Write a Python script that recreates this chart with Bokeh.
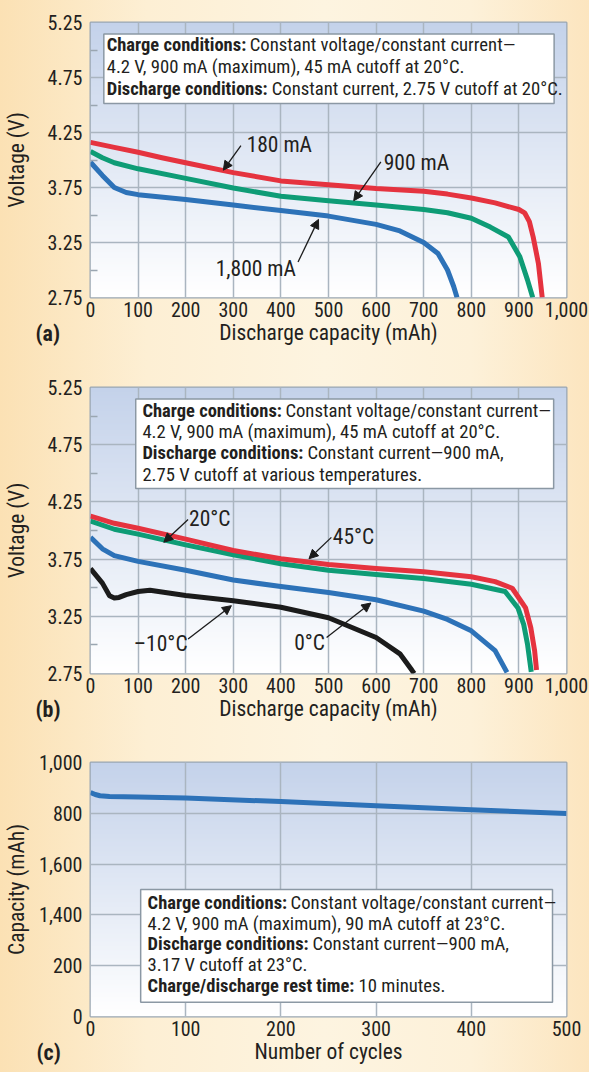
import numpy as np
from bokeh.plotting import figure
from bokeh.models import (Range1d, FixedTicker, NumeralTickFormatter, PrintfTickFormatter,
                          Arrow, NormalHead, Label, Title)
from bokeh.layouts import column
from bokeh.embed import file_html
from bokeh.resources import INLINE

# ---------------- data ----------------
# Panel (a): discharge at different currents, 20 C
a_180_x = [0, 50, 100, 150, 200, 300, 400, 500, 600, 700, 750, 800, 850, 900, 912, 922, 930, 941, 949]
a_180_y = [4.16, 4.115, 4.07, 4.02, 3.975, 3.885, 3.81, 3.775, 3.74, 3.715, 3.69, 3.655, 3.61, 3.55, 3.52, 3.44, 3.30, 3.06, 2.75]
a_900_x = [0, 25, 50, 100, 200, 300, 400, 500, 600, 700, 750, 800, 840, 878, 902, 918, 929]
a_900_y = [4.077, 4.02, 3.975, 3.92, 3.833, 3.745, 3.67, 3.63, 3.59, 3.55, 3.52, 3.47, 3.39, 3.30, 3.12, 2.91, 2.75]
a_1800_x = [0, 25, 50, 75, 100, 200, 300, 400, 500, 600, 650, 700, 730, 750, 763, 770]
a_1800_y = [3.98, 3.86, 3.75, 3.705, 3.685, 3.64, 3.59, 3.54, 3.49, 3.415, 3.355, 3.25, 3.15, 3.0, 2.85, 2.75]

# Panel (b): discharge at 900 mA, various temperatures
b_20_x = [0, 50, 100, 200, 300, 400, 500, 600, 700, 800, 850, 886, 914, 925, 933, 937]
b_20_y = [4.126, 4.063, 4.02, 3.925, 3.825, 3.753, 3.702, 3.667, 3.639, 3.596, 3.553, 3.495, 3.323, 3.15, 2.95, 2.78]
b_45_x = [0, 50, 100, 200, 300, 400, 500, 600, 700, 800, 871, 898, 910, 918, 926]
b_45_y = [4.083, 4.011, 3.968, 3.874, 3.788, 3.71, 3.653, 3.616, 3.581, 3.53, 3.467, 3.323, 3.18, 3.008, 2.764]
b_0_x = [0, 25, 50, 100, 200, 300, 400, 500, 600, 700, 750, 800, 850, 875]
b_0_y = [3.94, 3.84, 3.78, 3.73, 3.653, 3.567, 3.51, 3.458, 3.395, 3.295, 3.223, 3.123, 2.95, 2.76]
b_m10_x = [0, 25, 40, 50, 60, 75, 100, 125, 200, 300, 400, 500, 600, 650, 675, 680]
b_m10_y = [3.667, 3.54, 3.43, 3.41, 3.415, 3.44, 3.467, 3.478, 3.432, 3.386, 3.329, 3.237, 3.065, 2.922, 2.78, 2.75]

# Panel (c): capacity vs cycles
c_cycles = [0, 5, 10, 20, 50, 100, 200, 300, 400, 500]
c_capacity = [882, 874, 869, 866, 864, 860, 846, 830, 814, 799]

# ticks
v_ticks = [2.75, 3.25, 3.75, 4.25, 4.75, 5.25]
v_minor = [3.0, 3.5, 4.0, 4.5, 5.0]
mah_ticks = [0, 100, 200, 300, 400, 500, 600, 700, 800, 900, 1000]
cyc_ticks = [0, 100, 200, 300, 400, 500]
cap_ticks = [0, 200, 400, 600, 800, 1000]
cap_labels = ["0", "200", "1,400", "1,600", "800", "1,000"]

# texts
box_a = [("Charge conditions:", "Constant voltage/constant current\u2014"),
         ("", "4.2 V, 900 mA (maximum), 45 mA cutoff at 20\u00b0C."),
         ("Discharge conditions:", "Constant current, 2.75 V cutoff at 20\u00b0C.")]
box_b = [("Charge conditions:", "Constant voltage/constant current\u2014"),
         ("", "4.2 V, 900 mA (maximum), 45 mA cutoff at 20\u00b0C."),
         ("Discharge conditions:", "Constant current\u2014900 mA,"),
         ("", "2.75 V cutoff at various temperatures.")]
box_c = [("Charge conditions:", "Constant voltage/constant current\u2014"),
         ("", "4.2 V, 900 mA (maximum), 90 mA cutoff at 23\u00b0C."),
         ("Discharge conditions:", "Constant current\u2014900 mA,"),
         ("", "3.17 V cutoff at 23\u00b0C."),
         ("Charge/discharge rest time:", "10 minutes.")]

# annotation (label text, label x, label y, arrow from x, y, arrow to x, y)
ann_a = [("180 mA", 328, 4.137, 316, 4.131, 279, 3.907),
         ("900 mA", 616, 3.976, 610, 3.982, 553, 3.63),
         ("1,800 mA", 263, 3.012, 436, 3.072, 479, 3.46)]
ann_b = [("20\u00b0C", 207, 4.103, 205, 4.097, 154, 3.897),
         ("45\u00b0C", 509, 3.948, 506, 3.94, 459, 3.753),
         ("\u201310\u00b0C", 91, 3.008, 205, 3.051, 296, 3.343),
         ("0\u00b0C", 428, 3.02, 496, 3.065, 589, 3.366)]

# ---------------- style ----------------
FONT = "Roboto Condensed"
INK = "#231f20"
RED = "#e5333f"
GREEN = "#0e9c76"
BLUE = "#2d72b8"
BLACK = "#1b1b1b"
GRID = "#aab5c0"
FRAME = "#9aa6b1"
BOXLINE = "#8b98a4"
BOLD_OFF = {"Charge conditions:": 143, "Discharge conditions:": 165, "Charge/discharge rest time:": 211}
W = 589


def gradient(p, x0, x1, y0, y1):
    n = 240
    top = np.array([0xc4, 0xd2, 0xea], dtype=float)
    bot = np.array([255, 255, 255], dtype=float)
    t = np.linspace(0, 1, n)[:, None]
    rgb = bot + (top - bot) * t
    img = np.zeros((n, 1), dtype=np.uint32)
    view = img.view(dtype=np.uint8).reshape((n, 1, 4))
    view[:, 0, 0:3] = rgb.round().astype(np.uint8)
    view[:, 0, 3] = 255
    p.image_rgba(image=[img], x=x0, y=y0, dw=x1 - x0, dh=y1 - y0, level="image")


def make_fig(h, xr, yr, top, bottom, right, xlabel, ylabel, ylab_standoff, tag, tag_offset):
    p = figure(width=W, height=h, x_range=Range1d(*xr), y_range=Range1d(*yr),
               output_backend="svg", toolbar_location=None,
               min_border_left=86, min_border_right=right,
               min_border_top=top, min_border_bottom=bottom)
    p.border_fill_color = None
    p.background_fill_color = "white"
    p.outline_line_color = FRAME
    p.outline_line_width = 2
    p.grid.grid_line_color = GRID
    p.grid.grid_line_width = 1.5
    for ax in (p.xaxis[0], p.yaxis[0]):
        ax.axis_line_color = None
        ax.major_tick_in = 0
        ax.major_tick_out = 0
        ax.minor_tick_out = 0
        ax.major_label_text_font = FONT
        ax.major_label_text_font_size = "20px"
        ax.major_label_text_color = INK
        ax.axis_label_text_font = FONT
        ax.axis_label_text_font_size = "21.5px"
        ax.axis_label_text_font_style = "normal"
        ax.axis_label_text_color = INK
    p.xaxis.major_label_standoff = 4
    p.yaxis.major_label_standoff = 8
    p.xaxis.axis_label = xlabel
    p.yaxis.axis_label = ylabel
    p.xaxis.axis_label_standoff = 0
    p.yaxis.axis_label_standoff = ylab_standoff
    gradient(p, xr[0], xr[1], yr[0], yr[1])
    p.add_layout(Title(text=tag, align="left", offset=tag_offset, standoff=-54,
                       vertical_align="top", text_font=FONT, text_font_size="22px",
                       text_font_style="bold", text_color=INK), "below")
    return p


def add_label(p, x, y, text, size="21.5px", align="left"):
    p.add_layout(Label(x=x, y=y, text=text, text_font=FONT, text_font_size=size,
                       text_color=INK, text_align=align, text_baseline="middle"))


def add_box(p, l, r, b, t, x, ys, lines):
    p.quad(left=l, right=r, bottom=b, top=t, fill_color="white",
           line_color=BOXLINE, line_width=1.5)
    for (bold, normal), y in zip(lines, ys):
        off = 0
        if bold:
            p.add_layout(Label(x=x, y=y, text=bold, text_font=FONT, text_font_size="18.5px",
                               text_font_style="bold", text_color=INK,
                               text_align="left", text_baseline="middle"))
            off = BOLD_OFF[bold]
        p.add_layout(Label(x=x, y=y, x_offset=off, text=normal, text_font=FONT,
                           text_font_size="18.7px", text_color=INK,
                           text_align="left", text_baseline="middle"))


def add_ann(p, anns):
    for text, lx, ly, x0, y0, x1, y1 in anns:
        p.add_layout(Arrow(end=NormalHead(size=9, fill_color=BLACK, line_color=BLACK, line_width=1),
                           x_start=x0, y_start=y0, x_end=x1, y_end=y1,
                           line_color=BLACK, line_width=1.3))
        add_label(p, lx, ly, text)


def voltage_axes(p):
    p.xaxis.ticker = FixedTicker(ticks=mah_ticks)
    p.xaxis.formatter = NumeralTickFormatter(format="0,0")
    p.yaxis.ticker = FixedTicker(ticks=v_ticks, minor_ticks=v_minor)
    p.yaxis.formatter = PrintfTickFormatter(format="%.2f")
    p.yaxis.minor_tick_in = 7
    p.yaxis.minor_tick_line_color = FRAME
    p.yaxis.minor_tick_line_width = 1.5


LW = 5

# ---------------- panel (a) ----------------
pa = make_fig(363, (0, 1000), (2.75, 5.25), 22, 66, 23,
              "Discharge capacity (mAh)", "Voltage (V)", 16, "(a)", -55)
voltage_axes(pa)
for xs, ys, c in ((a_1800_x, a_1800_y, BLUE), (a_900_x, a_900_y, GREEN), (a_180_x, a_180_y, RED)):
    pa.line(xs, ys, line_color=c, line_width=LW, line_join="round")
add_box(pa, 28, 974, 4.513, 5.146, 34, [5.044, 4.847, 4.650], box_a)
add_ann(pa, ann_a)

# ---------------- panel (b) ----------------
pb = make_fig(366, (0, 1000), (2.75, 5.25), 24, 56, 23,
              "Discharge capacity (mAh)", "Voltage (V)", 16, "(b)", -55)
voltage_axes(pb)
for xs, ys, c in ((b_m10_x, b_m10_y, BLACK), (b_0_x, b_0_y, BLUE), (b_45_x, b_45_y, GREEN), (b_20_x, b_20_y, RED)):
    pb.line(xs, ys, line_color=c, line_width=LW, line_join="round")
add_box(pb, 95, 973, 4.367, 5.15, 109, [5.046, 4.862, 4.681, 4.485], box_b)
add_ann(pb, ann_b)

# ---------------- panel (c) ----------------
pc = make_fig(343, (0, 500), (0, 1000), 33, 56, 17,
              "Number of cycles", "Capacity (mAh)", 7, "(c)", -54)
pc.xaxis.ticker = FixedTicker(ticks=cyc_ticks)
pc.yaxis.ticker = FixedTicker(ticks=cap_ticks)
pc.yaxis.major_label_overrides = {t: s for t, s in zip(cap_ticks, cap_labels)}
pc.line(c_cycles, c_capacity, line_color=BLUE, line_width=LW, line_join="round")
add_box(pc, 52.7, 485.3, 56, 500, 60, [446, 365, 285, 201, 122], box_c)

layout = column(pa, pb, pc, spacing=0,
                styles={"background": "linear-gradient(to right, #fbe1b4 0%, #fdefd4 25%, #fdf4e0 55%, #fdf1d9 80%, #fce5bf 100%)"})

open("out.html", "w").write(file_html(layout, INLINE))
